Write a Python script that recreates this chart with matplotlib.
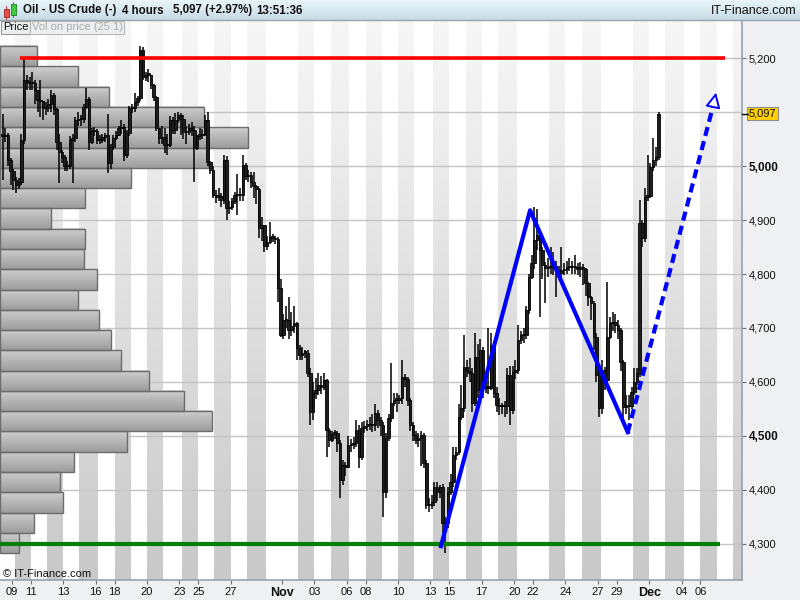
import matplotlib
matplotlib.use("Agg")
import matplotlib.pyplot as plt
import matplotlib.transforms as mtransforms
from matplotlib.colors import LinearSegmentedColormap
from matplotlib.patches import Rectangle
import numpy as np
import pandas as pd

plt.rcParams["font.family"] = ["Liberation Sans", "DejaVu Sans"]

# ---------------------------------------------------------------- data
# 4-hour candles, bar 0 = Sunday 9 Oct 2016 (first 4 values are Fri 7 Oct)
closes = [
    5055, 5057, 5011, 4991, 4974, 4965, 4970, 5048, 5159, 5155,
    5154, 5154, 5140, 5122, 5120, 5107, 5107, 5115, 5131, 5105,
    5044, 5026, 5017, 5000, 5000, 5048, 5052, 5085, 5087, 5087,
    5109, 5124, 5044, 5065, 5065, 5048, 5048, 5054, 5057, 5005,
    5035, 5052, 5057, 5070, 5072, 5020, 5061, 5107, 5107, 5118,
    5126, 5215, 5165, 5169, 5169, 5150, 5128, 5070, 5052, 5054,
    5039, 5039, 5085, 5067, 5085, 5094, 5087, 5063, 5063, 5070, 5067,
    5033, 5056, 5057, 5060, 5085, 5007, 4993, 4946, 4943, 4945,
    4937, 5011, 4922, 4925, 4935, 4946, 4946, 4946, 5002, 4981,
    4983, 4970, 4963, 4957, 4885, 4890, 4852, 4860, 4869, 4867,
    4865, 4774, 4687, 4715, 4715, 4696, 4704, 4709, 4663, 4650,
    4654, 4654, 4617, 4544, 4580, 4585, 4594, 4590, 4604, 4511,
    4493, 4504, 4506, 4487, 4419, 4446, 4443, 4483, 4485, 4487,
    4511, 4461, 4515, 4519, 4520, 4520, 4520, 4543, 4530, 4520,
    4396, 4496, 4533, 4561, 4567, 4567, 4570, 4609, 4605, 4567,
    4520, 4502, 4493, 4496, 4502, 4450, 4372, 4372, 4378, 4406,
    4396, 4406, 4339, 4339, 4396, 4415, 4465, 4470, 4535, 4552,
    4628, 4620, 4617, 4561, 4646, 4585, 4659, 4589, 4593, 4589,
    4669, 4580, 4557, 4555, 4555, 4555, 4613, 4548, 4619, 4622,
    4678, 4687, 4687, 4733, 4794, 4820, 4863, 4872, 4844, 4817,
    4811, 4813, 4815, 4815, 4807, 4802, 4807, 4810, 4813, 4813,
    4813, 4813, 4810, 4810, 4810, 4783, 4757, 4746, 4683, 4613,
    4552, 4622, 4604, 4683, 4709, 4711, 4705, 4696, 4637, 4554,
    4555, 4555, 4581, 4600, 4617, 4894, 4867, 4943, 4944, 4998, 5011, 5017, 5097,
]
highs = [
    5096, 5070, 5062, 5015, 4995, 4980, 4978, 5060, 5200, 5168,
    5165, 5175, 5160, 5135, 5160, 5120, 5118, 5125, 5140, 5135,
    5108, 5060, 5030, 5020, 5010, 5055, 5060, 5090, 5100, 5095,
    5115, 5144, 5128, 5070, 5072, 5068, 5058, 5060, 5062, 5096,
    5040, 5058, 5065, 5075, 5085, 5078, 5066, 5112, 5115, 5135,
    5130, 5222, 5220, 5175, 5180, 5168, 5152, 5130, 5060, 5075,
    5070, 5060, 5092, 5090, 5098, 5100, 5098, 5095, 5075, 5078, 5082,
    5075, 5058, 5070, 5068, 5094, 5100, 5010, 5000, 4955, 4960,
    4950, 5020, 5018, 4935, 4940, 4952, 4985, 4960, 5020, 5005,
    4992, 4988, 4989, 4965, 4960, 4905, 4880, 4870, 4897, 4875,
    4870, 4868, 4790, 4725, 4740, 4757, 4730, 4740, 4712, 4668,
    4665, 4660, 4660, 4625, 4600, 4607, 4617, 4612, 4617, 4606,
    4515, 4510, 4512, 4510, 4492, 4456, 4452, 4500, 4495, 4498,
    4530, 4520, 4525, 4528, 4530, 4535, 4540, 4560, 4548, 4535,
    4525, 4505, 4540, 4635, 4580, 4580, 4575, 4640, 4615, 4610,
    4570, 4525, 4510, 4505, 4510, 4505, 4455, 4385, 4390, 4415,
    4415, 4410, 4412, 4350, 4405, 4430, 4480, 4480, 4560, 4595,
    4687, 4640, 4645, 4625, 4690, 4670, 4680, 4665, 4610, 4700,
    4690, 4675, 4590, 4570, 4562, 4565, 4625, 4630, 4630, 4640,
    4706, 4695, 4700, 4740, 4800, 4835, 4924, 4920, 4880, 4850,
    4822, 4830, 4850, 4840, 4825, 4815, 4850, 4820, 4825, 4830,
    4825, 4835, 4820, 4822, 4818, 4812, 4785, 4760, 4750, 4690,
    4620, 4640, 4628, 4785, 4720, 4730, 4725, 4715, 4700, 4640,
    4575, 4575, 4590, 4625, 4625, 4937, 4900, 4960, 5020, 5005, 5052, 5035, 5100,
]
lows = [
    4974, 5045, 5000, 4965, 4955, 4950, 4958, 4965, 5040, 5140,
    5140, 5140, 5115, 5100, 5090, 5085, 5095, 5100, 5100, 5095,
    5030, 4969, 5005, 4990, 4990, 4995, 4968, 5045, 5075, 5075,
    5080, 5105, 5030, 5040, 5055, 5040, 5040, 5042, 5045, 4987,
    4995, 5030, 5048, 5055, 5060, 5010, 5015, 5055, 5098, 5100,
    5112, 5120, 5160, 5158, 5155, 5142, 5120, 5065, 5040, 5040,
    5025, 5020, 5035, 5060, 5060, 5080, 5058, 5050, 5040, 5058, 5055,
    4970, 5030, 5048, 5050, 5055, 5000, 4985, 4940, 4932, 4935,
    4925, 4930, 4900, 4912, 4918, 4930, 4910, 4935, 4935, 4975,
    4970, 4960, 4940, 4930, 4867, 4862, 4840, 4845, 4855, 4860,
    4856, 4748, 4683, 4680, 4700, 4680, 4685, 4690, 4641, 4640,
    4640, 4645, 4610, 4520, 4530, 4568, 4575, 4578, 4585, 4461,
    4480, 4488, 4495, 4470, 4385, 4410, 4425, 4440, 4470, 4475,
    4480, 4440, 4455, 4505, 4510, 4512, 4508, 4510, 4515, 4500,
    4350, 4385, 4490, 4525, 4555, 4545, 4560, 4560, 4590, 4555,
    4510, 4490, 4485, 4480, 4445, 4440, 4365, 4360, 4365, 4370,
    4380, 4385, 4320, 4283, 4330, 4390, 4405, 4455, 4465, 4530,
    4545, 4610, 4600, 4545, 4555, 4570, 4580, 4570, 4580, 4578,
    4585, 4570, 4545, 4538, 4540, 4535, 4540, 4520, 4540, 4605,
    4615, 4670, 4672, 4680, 4725, 4790, 4810, 4845, 4720, 4790,
    4746, 4795, 4800, 4798, 4757, 4790, 4795, 4798, 4800, 4805,
    4800, 4800, 4798, 4795, 4780, 4760, 4740, 4715, 4660, 4600,
    4535, 4540, 4585, 4590, 4680, 4695, 4690, 4680, 4620, 4530,
    4540, 4530, 4550, 4575, 4595, 4610, 4850, 4860, 4935, 4941, 4990, 5000, 5012,
]
first_open = 5060
first_bar = -4

# volume-on-price profile, 25 bands from bottom to top
profile_volume = [19, 34, 63, 60, 74, 127, 212, 184, 149, 121, 111, 99, 78,
                  97, 84, 85, 51, 85, 131, 208, 248, 204, 109, 78, 37]

# sessions shaded grey in the background
grey_sessions = ["10-10", "10-12", "10-14", "10-16", "10-18", "10-20", "10-24",
                 "10-26", "10-28", "10-30", "11-02", "11-04", "11-06", "11-08",
                 "11-10", "11-14", "11-16", "11-18", "11-20", "11-23", "11-25",
                 "11-27", "11-30", "12-02", "12-04", "12-06", "12-08"]

# x-axis tick sessions and labels
tick_sessions = ["10-09", "10-11", "10-13", "10-16", "10-18", "10-20", "10-23",
                 "10-25", "10-27", "11-01", "11-03", "11-06", "11-08", "11-10",
                 "11-13", "11-15", "11-17", "11-20", "11-22", "11-24", "11-27",
                 "11-29", "12-01", "12-04", "12-06"]
tick_labels = ["09", "11", "13", "16", "18", "20", "23", "25", "27", "Nov", "03",
               "06", "08", "10", "13", "15", "17", "20", "22", "24", "27", "29",
               "Dec", "04", "06"]

price_ticks = [4300, 4400, 4500, 4600, 4700, 4800, 4900, 5000, 5200]
grid_levels = [4300, 4400, 4500, 4600, 4700, 4800, 4900, 5000, 5100, 5200]

# drawn analysis lines (bar index, price)
resistance = ([2.5, 263.5], [5200, 5200])
support = ([-5.0, 261.7], [4300, 4300])
zigzag = ([158.4, 191.4, 227.6], [4296, 4918, 4507])
projection = ([227.6, 259.4], [4507, 5115])
projection_tip = (260.3, 5136)

last_price = 5097

# ---------------------------------------------------------------- sessions
dates = pd.date_range("2016-10-07", "2016-12-08", freq="D")
dates = [d for d in dates if d.weekday() != 5]
sess_start = {}
pos = -6
for d in dates:
    n = 1 if d.weekday() == 6 else 6
    sess_start[d.strftime("%m-%d")] = (pos, n)
    pos += n

# ---------------------------------------------------------------- figure
fig = plt.figure(figsize=(8, 6), dpi=100, facecolor="#eef0f2")
W, H = 800, 600
ax = fig.add_axes([0, 20 / H, 742 / W, 560 / H])
xlim = (-4.94, 269.9)
ylim = (4233.3, 5270.4)

# background gradient + white sessions
bg_cmap = LinearSegmentedColormap.from_list("bg", ["#f7f7f7", "#c9c9c9"])
ax.imshow(np.linspace(0, 1, 256).reshape(-1, 1), cmap=bg_cmap, aspect="auto",
          extent=(xlim[0], xlim[1], ylim[0], ylim[1]), origin="upper", zorder=0)
for key, (s, n) in sess_start.items():
    if key not in grey_sessions:
        ax.axvspan(s - 0.5, s + n - 0.5, color="white", lw=0, zorder=0.5)

for p in grid_levels:
    ax.axhline(p, color="#c4c4c4", lw=1, zorder=1)

# volume profile
blend = mtransforms.blended_transform_factory(ax.transAxes, ax.transData)
band_lo, band_hi = min(lows), max(highs)
band_h = (band_hi - band_lo) / len(profile_volume)
prof_cmap = LinearSegmentedColormap.from_list("pf", ["#cfcfcf", "#9c9c9c"])
vmax = max(profile_volume)
for k, v in enumerate(profile_volume):
    y0 = band_lo + k * band_h
    w = v / vmax * (248 / 742)
    ax.imshow(np.linspace(0, 1, 64).reshape(-1, 1), cmap=prof_cmap, aspect="auto",
              extent=(0, w, y0, y0 + band_h), origin="upper", transform=blend,
              zorder=2, interpolation="bilinear")
    ax.add_patch(Rectangle((0, y0), w, band_h, transform=blend, fill=False,
                           edgecolor="#6c6c6c", lw=1, zorder=2.1))

# candles
idx = np.arange(first_bar, first_bar + len(closes))
opens = [first_open] + closes[:-1]
o = np.array(opens, float)
c = np.array(closes, float)
hi = np.maximum(np.array(highs, float), np.maximum(o, c))
lo = np.minimum(np.array(lows, float), np.minimum(o, c))
ax.vlines(idx, lo, hi, color="black", lw=1.1, zorder=3.9)
body = np.maximum(np.abs(c - o), 2.5)
ax.bar(idx, body, bottom=np.minimum(o, c), width=0.95, color="#1e1e1e",
       edgecolor="black", lw=0.6, zorder=4)

# lines
ax.plot(*resistance, color="#ff0000", lw=2.6, zorder=5, solid_capstyle="butt")
ax.plot(*support, color="#007f00", lw=3, zorder=5, solid_capstyle="butt")
ax.plot(*zigzag, color="#0000ff", lw=3, zorder=6)
ax.plot(*projection, color="#0000ff", lw=3, ls=(0, (2.2, 1.3)), zorder=6)
ax.annotate("", xy=projection_tip, xytext=(projection[0][1], projection[1][1]),
            xycoords="data",
            arrowprops=dict(arrowstyle="-|>,head_length=0.9,head_width=0.45",
                            fc="white", ec="#0000ff", lw=1.4, shrinkA=0, shrinkB=0),
            zorder=7)

ax.set_xlim(*xlim)
ax.set_ylim(*ylim)

# axes styling
for side in ["left", "top"]:
    ax.spines[side].set_visible(False)
for side in ["right", "bottom"]:
    ax.spines[side].set_color("#98a2aa")
    ax.spines[side].set_linewidth(1.2)
ax.yaxis.tick_right()
ax.set_yticks(price_ticks)
ax.set_yticklabels([f"{p:,}" for p in price_ticks])
ax.tick_params(axis="y", direction="out", length=3, width=0.8, color="#707070",
               labelsize=8, pad=2, labelcolor="#111111")
for lab, p in zip(ax.get_yticklabels(), price_ticks):
    if p in (5000, 4500):
        lab.set_fontweight("bold")
        lab.set_fontsize(8.5)

ax.set_xticks([sess_start[k][0] - 0.5 for k in tick_sessions])
ax.set_xticklabels(tick_labels)
ax.tick_params(axis="x", direction="out", length=3, width=0.8, color="#707070",
               labelsize=8, pad=2, labelcolor="#111111")
for lab in ax.get_xticklabels():
    if lab.get_text() in ("Nov", "Dec"):
        lab.set_fontweight("bold")
        lab.set_fontsize(9)

# current price marker
ax.annotate(f"{last_price:,}", xy=(1.0, last_price), xycoords=blend,
            xytext=(5, 0), textcoords="offset points", ha="left", va="center",
            fontsize=8, color="#111111",
            bbox=dict(boxstyle="square,pad=0.15", fc="#ffd000", ec="#8c8c8c", lw=0.8),
            annotation_clip=False)
ax.plot([1.0, 1.008], [last_price, last_price], transform=blend, color="black",
        lw=1, clip_on=False, zorder=8)

# ---------------------------------------------------------------- overlay (header, tabs)
ov = fig.add_axes([0, 0, 1, 1], zorder=10)
ov.set_xlim(0, W)
ov.set_ylim(H, 0)
ov.axis("off")
ov.patch.set_alpha(0)

hdr_cmap = LinearSegmentedColormap.from_list("hd", ["#e8f6fb", "#c7dbe4"])
ov.imshow(np.linspace(0, 1, 32).reshape(-1, 1), cmap=hdr_cmap, aspect="auto",
          extent=(0, W, 20, 0), zorder=1)
ov.plot([0, W], [20, 20], color="#9aa6ae", lw=1, zorder=2)

# candle icon
ov.add_patch(Rectangle((3.5, 9), 5, 8, fc="#e85050", ec="#a02020", lw=0.6, zorder=3))
ov.plot([6, 6], [6, 19], color="#a02020", lw=0.6, zorder=2.9)
ov.add_patch(Rectangle((10.5, 4), 5, 11, fc="#40c840", ec="#208020", lw=0.6, zorder=3))
ov.plot([13, 13], [1.5, 17], color="#208020", lw=0.6, zorder=2.9)

hdr_font = dict(fontsize=8.3, fontweight="bold", color="#111111", va="center", zorder=3)
ov.text(23, 10.5, "Oil - US Crude (-)", **hdr_font)
ov.text(122, 10.5, "4 hours", **hdr_font)
ov.text(173, 10.5, "5,097 (+2.97%)", **hdr_font)
ov.text(256, 10.5, "13:51:36", **hdr_font)
ov.text(796, 10.5, "IT-Finance.com", fontsize=9, color="#111111", ha="right",
        va="center", zorder=3)

# tabs
ov.add_patch(Rectangle((1, 20.5), 29, 13, fc="#eceef0", ec="#9a9a9a", lw=0.8, zorder=3))
ov.text(15.5, 27.3, "Price", fontsize=8, ha="center", va="center", color="#111111", zorder=4)
ov.add_patch(Rectangle((30, 20.5), 94, 13, fc="#eceef0", ec="#b8b8b8", lw=0.8, zorder=3))
ov.text(77, 27.3, "Vol on price (25 1)", fontsize=8, ha="center", va="center",
        color="#ababab", zorder=4)

ov.text(3, 574, "© IT-Finance.com", fontsize=8, color="#111111", va="center", zorder=3)

fig.savefig("out.png", dpi=100, facecolor=fig.get_facecolor())
